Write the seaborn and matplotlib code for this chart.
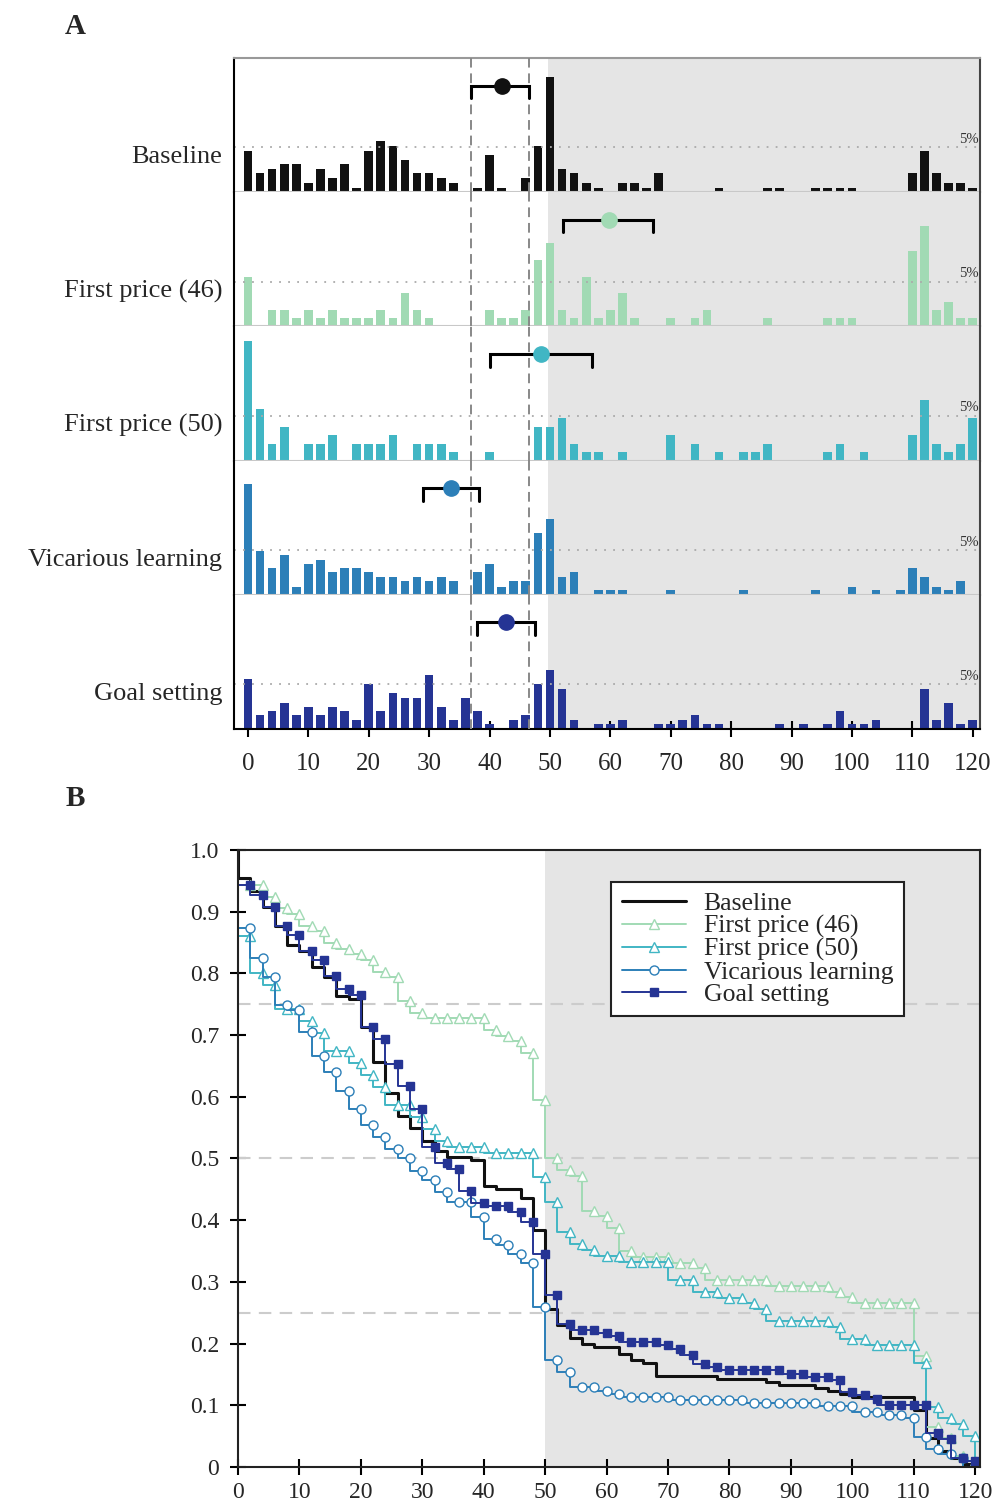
import numpy as np
import pandas as pd
import matplotlib
matplotlib.use("Agg")
import matplotlib.pyplot as plt
import seaborn as sns

sns.set_theme(style="white")
plt.rcParams["font.family"] = ["Liberation Serif", "DejaVu Serif"]

# price bins (width 2)
bins = np.arange(0, 121, 2)

# share of offers in each bin, in percent
baseline = [4.6, 2.1, 2.6, 3.1, 3.1, 1.05, 2.6, 1.6, 3.1, 0.5,
            4.6, 5.7, 5.15, 3.6, 2.1, 2.1, 1.6, 1.05, 0, 0.5,
            4.1, 0.5, 0, 1.6, 5.15, 12.9, 2.6, 2.1, 1.05, 0.5,
            0, 1.05, 1.05, 0.5, 2.1, 0, 0, 0, 0, 0.5,
            0, 0, 0, 0.5, 0.5, 0, 0, 0.5, 0.5, 0.5,
            0.5, 0, 0, 0, 0, 2.1, 4.6, 2.1, 1.05, 1.05, 0.5]
first_46 = [5.55, 0, 1.85, 1.85, 0.9, 1.85, 0.9, 1.85, 0.9, 0.9,
            0.9, 1.85, 0.9, 3.7, 1.85, 0.9, 0, 0, 0, 0,
            1.85, 0.9, 0.9, 1.85, 7.4, 9.3, 1.85, 0.9, 5.55, 0.9,
            1.85, 3.7, 0.9, 0, 0, 0.9, 0, 0.9, 1.85, 0,
            0, 0, 0, 0.9, 0, 0, 0, 0, 0.9, 0.9,
            0.9, 0, 0, 0, 0, 8.4, 11.2, 1.85, 2.75, 0.9, 0.9]
first_50 = [13.4, 5.75, 1.85, 3.8, 0, 1.85, 1.85, 2.85, 0, 1.85,
            1.85, 1.85, 2.85, 0, 1.85, 1.85, 1.85, 0.9, 0, 0,
            0.9, 0, 0, 0, 3.8, 3.8, 4.8, 1.85, 0.9, 0.9,
            0, 0.9, 0, 0, 0, 2.85, 0, 1.85, 0, 0.9,
            0, 0.9, 0.9, 1.85, 0, 0, 0, 0, 0.9, 1.85,
            0, 0.9, 0, 0, 0, 2.85, 6.8, 1.85, 0.9, 1.85, 4.8]
vicarious = [12.4, 4.9, 2.95, 4.45, 0.9, 3.45, 3.9, 2.5, 2.95, 2.95,
             2.5, 1.95, 1.95, 1.5, 1.95, 1.5, 1.95, 1.5, 0, 2.5,
             3.45, 0.9, 1.5, 1.5, 6.9, 8.45, 1.95, 2.5, 0, 0.5,
             0.5, 0.5, 0, 0, 0, 0.5, 0, 0, 0, 0,
             0, 0.5, 0, 0, 0, 0, 0, 0.5, 0, 0,
             0.9, 0, 0.5, 0, 0.5, 2.95, 1.95, 0.9, 0.5, 1.5, 0]
goal = [5.55, 1.5, 1.95, 2.95, 1.5, 2.5, 1.5, 2.5, 1.95, 0.95,
        5.05, 1.95, 4.0, 3.5, 3.5, 6.05, 2.5, 0.95, 3.5, 1.95,
        0.5, 0, 0.95, 1.5, 5.05, 6.55, 4.5, 0.95, 0, 0.5,
        0.5, 0.95, 0, 0, 0.5, 0.5, 0.95, 1.5, 0.5, 0.5,
        0, 0, 0, 0, 0.5, 0, 0.5, 0, 0.5, 1.95,
        0.5, 0.5, 0.95, 0, 0, 0, 4.5, 0.95, 2.95, 0.5, 0.95]

names = ["Baseline", "First price (46)", "First price (50)",
         "Vicarious learning", "Goal setting"]
colors = ["#111111", "#a1dab4", "#41b6c4", "#2c7fb8", "#253494"]
series = [baseline, first_46, first_50, vicarious, goal]

# mean and confidence interval of each condition
means = [42.0, 59.7, 48.5, 33.7, 42.8]
ci_low = [37.0, 52.2, 40.1, 29.0, 37.9]
ci_high = [46.5, 67.0, 56.9, 38.3, 47.5]

markers = [None, "^", "^", "o", "s"]
face = [None, "white", "white", "white", None]

fig = plt.figure(figsize=(9.98, 15.06), dpi=100)

# ---------- panel A ----------
top, bottom = 0.9615, 0.516
h = (top - bottom) / 5
for k in range(5):
    ax = fig.add_axes([0.2345, top - (k + 1) * h, 0.7475, h])
    ax.axvspan(49.7, 130, color="#e5e5e5", zorder=0, lw=0)
    sns.barplot(x=bins, y=series[k], native_scale=True, width=0.72,
                color=colors[k], saturation=1, errorbar=None,
                linewidth=0, ax=ax)
    ax.axhline(5, color="#aaaaaa", ls=(0, (1, 4)), lw=1.3, zorder=1)
    ax.text(120.9, 5.15, "5%", ha="right", va="bottom", fontsize=10.5,
            color="#333333")
    for xv in (ci_low[0], ci_high[0]):
        ax.axvline(xv, color="#888888", ls=(0, (5, 3)), lw=1.4, zorder=3)
    # CI bracket
    ax.plot([ci_low[k], ci_low[k], ci_high[k], ci_high[k]],
            [10.5, 11.9, 11.9, 10.5], color="black", lw=2.2,
            solid_joinstyle="miter", zorder=4)
    ax.plot(means[k], 11.9, "o", color=colors[k], ms=11, zorder=5)
    ax.set_xlim(-2.3, 121.2)
    ax.set_ylim(0, 15)
    ax.set_yticks([])
    ax.set_xlabel("")
    ax.set_ylabel("")
    ax.text(-0.016, 0.26, names[k], transform=ax.transAxes, ha="right",
            va="center", fontsize=19)
    ax.spines["left"].set_color("black")
    ax.spines["left"].set_linewidth(1.5)
    ax.spines["right"].set_color("#444444")
    ax.spines["right"].set_linewidth(1.5)
    if k == 0:
        ax.spines["top"].set_color("#999999")
        ax.spines["top"].set_linewidth(1.5)
    else:
        ax.spines["top"].set_visible(False)
    if k < 4:
        ax.spines["bottom"].set_color("#c8c8c8")
        ax.spines["bottom"].set_linewidth(1.5)
        ax.set_xticks([])
    else:
        ax.spines["bottom"].set_color("black")
        ax.spines["bottom"].set_linewidth(1.5)
        ax.set_xticks(range(0, 121, 10))
        ax.set_xticklabels([str(v) for v in range(0, 121, 10)])
        ax.tick_params(axis="x", direction="inout", length=11, width=1.5,
                       labelsize=18, pad=12, bottom=True, color="black")

fig.text(75 / 998, 1 - 27 / 1506, "A", ha="center", va="center",
         fontsize=21, fontweight="bold")
fig.text(75 / 998, 1 - 798 / 1506, "B", ha="center", va="center",
         fontsize=21, fontweight="bold")

# ---------- panel B ----------
axB = fig.add_axes([0.2385, 0.0259, 0.7435, 0.4097])
axB.axvspan(50, 130, color="#e5e5e5", zorder=0, lw=0)
for yv in (0.25, 0.5, 0.75):
    axB.axhline(yv, color="#cccccc", ls=(0, (6, 4)), lw=1.5, zorder=1)

xs = np.append(bins, bins[-1] + 2)
for k in range(5):
    p = np.array(series[k]) / np.sum(series[k])
    ys = np.concatenate([[1.0], 1 - np.cumsum(p)])
    df = pd.DataFrame({"x": xs, "y": ys})
    kw = dict(color=colors[k], drawstyle="steps-pre", label=names[k],
              ax=axB, sort=False, estimator=None)
    if markers[k] is None:
        sns.lineplot(data=df, x="x", y="y", lw=2.2, **kw)
    else:
        sns.lineplot(data=df, x="x", y="y", lw=1.4, marker=markers[k],
                     ms=6.5 if markers[k] != "s" else 5.5,
                     markerfacecolor=face[k] if face[k] else colors[k],
                     markeredgecolor=colors[k], markeredgewidth=1.0,
                     markevery=slice(1, 61), **kw)

axB.set_xlim(0, 120.8)
axB.set_ylim(0, 1.0)
axB.set_xlabel("")
axB.set_ylabel("")
axB.set_xticks(range(0, 121, 10))
axB.set_xticklabels([str(v) for v in range(0, 121, 10)])
yt = np.round(np.arange(0, 1.01, 0.1), 1)
axB.set_yticks(yt)
axB.set_yticklabels(["0"] + [f"{v:.1f}" for v in yt[1:]])
axB.tick_params(direction="inout", length=11, width=1.5, labelsize=17,
                color="black", left=True, bottom=True)
axB.tick_params(axis="x", pad=5)
axB.tick_params(axis="y", pad=8)
for s in axB.spines.values():
    s.set_color("#222222")
    s.set_linewidth(1.5)

leg = axB.legend(loc="upper left", bbox_to_anchor=(0.503, 0.948),
                 borderaxespad=0, fontsize=18.5, frameon=True, fancybox=False,
                 edgecolor="#222222", framealpha=1, handlelength=2.5,
                 handletextpad=0.7, labelspacing=-0.02, borderpad=0.4)
leg.get_frame().set_linewidth(1.5)

fig.savefig("out.png", dpi=100)
